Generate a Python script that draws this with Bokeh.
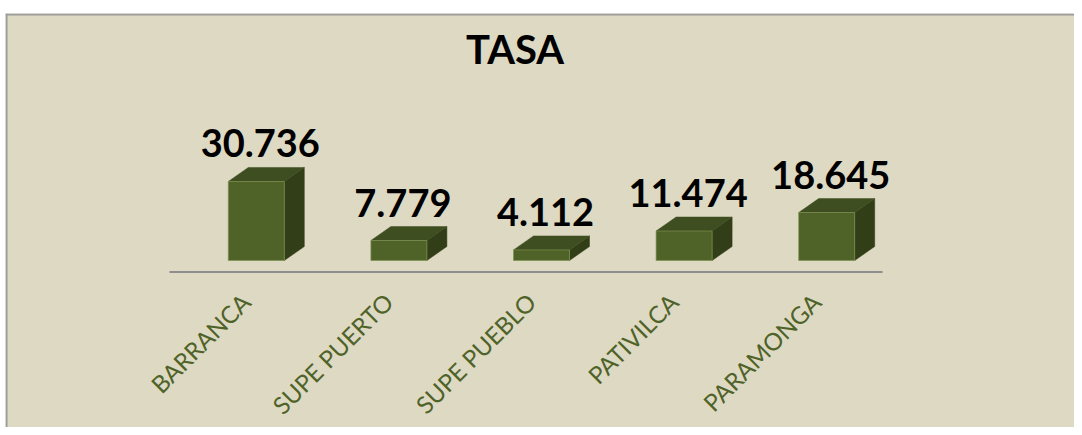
import math
from bokeh.plotting import figure
from bokeh.models import Range1d, ColumnDataSource, Span
from bokeh.core.properties import value
from bokeh.embed import file_html
from bokeh.resources import INLINE

# ---- data ----
categories = ["BARRANCA", "SUPE PUERTO", "SUPE PUEBLO", "PATIVILCA", "PARAMONGA"]
values = [30.736, 7.779, 4.112, 11.474, 18.645]
value_labels = [f"{v:.3f}" for v in values]
title_text = ["TASA"]

# ---- geometry (pixels -> data units) ----
W, H = 1074, 427
LEFT_BORDER = 5
TOP_BORDER = 13
FRAME_W = W - LEFT_BORDER
FRAME_H = H - TOP_BORDER
PX_X = 142.6          # pixels per category
PX_Y = 2.571          # pixels per value unit
AXIS_LEFT_PX = 164    # frame x of category axis start
ZERO_PX = 247         # frame y (from top) of value zero

x_start = -AXIS_LEFT_PX / PX_X
x_end = x_start + FRAME_W / PX_X
y_end = ZERO_PX / PX_Y
y_start = y_end - FRAME_H / PX_Y

FRONT_SHIFT = 15.5 / PX_X
HALF_W = 28 / PX_X
DEPTH_X = 20 / PX_X
DEPTH_Y = 14 / PX_Y

BG = "#DDD9C3"
FRONT = "#4F6228"
TOPC = "#3F4E20"
SIDE = "#323E18"
GREEN_TXT = "#4F6228"
BORDER = "#9C9C9C"

p = figure(width=W, height=H, output_backend="svg", toolbar_location=None,
           x_range=Range1d(x_start, x_end), y_range=Range1d(y_start, y_end),
           x_axis_location=None, y_axis_location=None,
           min_border_left=LEFT_BORDER, min_border_right=0, min_border_bottom=0,
           min_border_top=TOP_BORDER)
p.background_fill_color = BG
p.border_fill_color = "white"
p.outline_line_color = None
p.xgrid.visible = False
p.ygrid.visible = False

# chart-area border (top and left; right/bottom lie outside the picture)
p.add_layout(Span(location=x_start + 1 / PX_X, dimension="height",
                  line_color=BORDER, line_width=2))
p.add_layout(Span(location=y_end - 1 / PX_Y, dimension="width",
                  line_color=BORDER, line_width=2))

n = len(categories)
centers = [i + 0.5 for i in range(n)]
fx = [c + FRONT_SHIFT for c in centers]
lefts = [x - HALF_W for x in fx]
rights = [x + HALF_W for x in fx]

# axis line
axis_y = -11.5 / PX_Y
p.segment(x0=[0], y0=[axis_y], x1=[n], y1=[axis_y], line_color="#8E8E8E", line_width=2)

# side faces
side_xs = [[r, r + DEPTH_X, r + DEPTH_X, r] for r in rights]
side_ys = [[0, DEPTH_Y, v + DEPTH_Y, v] for v in values]
p.patches(xs=side_xs, ys=side_ys, fill_color=SIDE, line_color=SIDE, line_width=0.5)

# top faces
top_xs = [[l, l + DEPTH_X, r + DEPTH_X, r] for l, r in zip(lefts, rights)]
top_ys = [[v, v + DEPTH_Y, v + DEPTH_Y, v] for v in values]
p.patches(xs=top_xs, ys=top_ys, fill_color=TOPC, line_color=TOPC, line_width=0.5)

# front faces
p.quad(left=lefts, right=rights, bottom=[0] * n, top=values,
       fill_color=FRONT, line_color="#7F9350", line_alpha=0.7, line_width=1)

# value labels
src = ColumnDataSource(dict(x=fx, y=values, t=value_labels))
p.text(x="x", y="y", text="t", source=src, x_offset=4, y_offset=-38,
       text_align="center", text_baseline="alphabetic",
       text_font=value("Lato"), text_font_style="bold", text_font_size="38px",
       text_color="black")

# category labels
csrc = ColumnDataSource(dict(x=centers, y=[0] * n, t=categories))
p.text(x="x", y="y", text="t", source=csrc, x_offset=5, y_offset=37,
       angle=math.pi / 4, text_align="right", text_baseline="middle",
       text_font=value("Lato"), text_font_size="24px", text_color=GREEN_TXT)

# title
title_x = [(514.5 - (LEFT_BORDER + AXIS_LEFT_PX)) / PX_X]
title_y = [(ZERO_PX + TOP_BORDER - 48) / PX_Y]
p.text(x=title_x, y=title_y, text=title_text,
       text_align="center", text_baseline="alphabetic",
       text_font=value("Lato"), text_font_style="bold", text_font_size="40px",
       text_color="black")

open("out.html", "w").write(file_html(p, INLINE))
